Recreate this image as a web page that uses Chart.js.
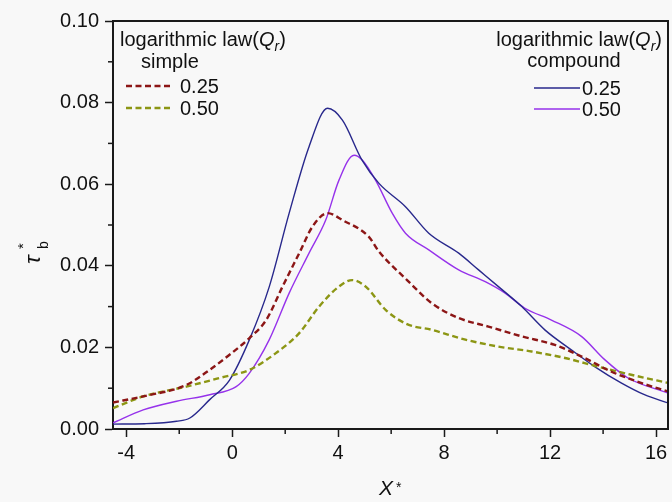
<!DOCTYPE html>
<html>
<head>
<meta charset="utf-8">
<script src="https://cdn.jsdelivr.net/npm/chart.js@4.4.1/dist/chart.umd.min.js"></script>
<style>
  html, body { margin: 0; padding: 0; background: #f8f8f8; }
  #wrap { width: 672px; height: 502px; }
</style>
</head>
<body>
<div id="wrap"><canvas id="tauChart" width="672" height="502"></canvas></div>
<script>
// tick values
const xTicks = [-4, 0, 4, 8, 12, 16];
const xMinor = [-2, 2, 6, 10, 14];
const yTicks = [0, 0.02, 0.04, 0.06, 0.08, 0.10];
const yMinor = [0.01, 0.03, 0.05, 0.07, 0.09];

// simple, Qr = 0.25 (red dashed)
const simple25X = [-4.5, -3.36, -1.73, -0.85, -0.1, 0.65, 1.28, 1.9, 2.53, 3.03, 3.6, 4.16, 5.16, 5.54, 6.6, 7.54, 8.55, 9.67, 10.93, 12.18, 13.3, 14.3, 15.43, 16.45];
const simple25Y = [0.0065, 0.008, 0.0108, 0.0145, 0.0182, 0.0223, 0.0267, 0.0349, 0.0431, 0.0496, 0.0529, 0.0512, 0.0471, 0.0435, 0.0365, 0.0308, 0.0272, 0.0251, 0.0227, 0.0206, 0.0174, 0.0141, 0.0113, 0.0092];

// simple, Qr = 0.50 (olive dashed)
const simple50X = [-4.5, -3.36, -1.73, -0.48, 0.65, 1.65, 2.53, 3.28, 4.03, 4.53, 5.04, 5.79, 6.6, 7.54, 8.8, 10.05, 11.3, 12.56, 13.8, 15.06, 16.45];
const simple50Y = [0.0051, 0.008, 0.0104, 0.0125, 0.0145, 0.0186, 0.0235, 0.030, 0.0349, 0.0365, 0.0349, 0.0292, 0.0257, 0.0243, 0.0219, 0.0202, 0.019, 0.0174, 0.0153, 0.0133, 0.0113];

// compound, Qr = 0.25 (navy)
const compound25X = [-4.5, -3.3, -2.1, -1.6, -0.85, -0.1, 0.65, 1.4, 2.15, 2.9, 3.6, 4.16, 4.9, 5.54, 6.54, 7.42, 8.55, 9.3, 10.05, 10.93, 11.8, 12.8, 13.68, 14.68, 15.56, 16.45];
const compound25Y = [0.0012, 0.0013, 0.0019, 0.0027, 0.0072, 0.012, 0.0219, 0.0349, 0.0529, 0.0692, 0.0786, 0.0757, 0.0659, 0.0602, 0.0545, 0.048, 0.0431, 0.039, 0.0349, 0.030, 0.0243, 0.0194, 0.0153, 0.0113, 0.0084, 0.0064];

// compound, Qr = 0.50 (violet)
const compound50X = [-4.5, -3.36, -2.1, -0.85, 0.15, 0.65, 1.4, 2.15, 2.9, 3.53, 4.03, 4.6, 4.9, 5.41, 6.04, 6.54, 7.42, 8.55, 9.55, 10.3, 11.05, 12.05, 13.18, 14.06, 14.94, 16.45];
const compound50Y = [0.0015, 0.0047, 0.0068, 0.0084, 0.0104, 0.0137, 0.0219, 0.0333, 0.0431, 0.0512, 0.061, 0.0671, 0.066, 0.061, 0.0529, 0.048, 0.0439, 0.039, 0.0361, 0.0333, 0.0296, 0.0267, 0.0227, 0.017, 0.0125, 0.0088];

const FONT = '"Liberation Sans", Arial, sans-serif';
const RED = 'rgb(140, 22, 22)';
const OLIVE = 'rgb(140, 150, 20)';
const NAVY = 'rgb(40, 40, 140)';
const VIOLET = 'rgb(150, 50, 235)';
const DASH = [6, 3.5];

const toPoints = (xs, ys) => xs.map((x, i) => ({ x: x, y: ys[i] }));

// 제목 "logarithmic law(Qr)" 그리기 (아래첨자 포함)
function drawLawTitle(ctx, x, y, alignRight) {
    const parts = [
        { t: 'logarithmic law(', f: '20px ' + FONT, dy: 0 },
        { t: 'Q', f: 'italic 20px ' + FONT, dy: 0 },
        { t: 'r', f: 'italic 14px ' + FONT, dy: 5 },
        { t: ')', f: '20px ' + FONT, dy: 0 }
    ];
    let total = 0;
    parts.forEach(p => { ctx.font = p.f; total += ctx.measureText(p.t).width; });
    let cx = alignRight ? x - total : x;
    ctx.textAlign = 'left';
    ctx.textBaseline = 'alphabetic';
    parts.forEach(p => {
        ctx.font = p.f;
        ctx.fillText(p.t, cx, y + p.dy);
        cx += ctx.measureText(p.t).width;
    });
}

function drawKey(ctx, x1, x2, y, color, dash, width, label, tx) {
    ctx.save();
    ctx.strokeStyle = color;
    ctx.lineWidth = width;
    ctx.setLineDash(dash);
    ctx.beginPath();
    ctx.moveTo(x1, y);
    ctx.lineTo(x2, y);
    ctx.stroke();
    ctx.restore();
    ctx.font = '20px ' + FONT;
    ctx.textAlign = 'left';
    ctx.textBaseline = 'alphabetic';
    ctx.fillText(label, tx, y + 7);
}

const decorPlugin = {
    id: 'decor',
    beforeDraw(chart) {
        const ctx = chart.ctx;
        ctx.save();
        ctx.fillStyle = '#f8f8f8';
        ctx.fillRect(0, 0, chart.width, chart.height);
        ctx.restore();
    },
    afterDraw(chart) {
        const ctx = chart.ctx;
        const a = chart.chartArea;
        const xs = chart.scales.x, ys = chart.scales.y;
        ctx.save();
        ctx.fillStyle = '#111';
        ctx.strokeStyle = '#1a1a1a';

        // 상단/우측 테두리
        ctx.lineWidth = 2;
        ctx.beginPath();
        ctx.moveTo(a.left, a.top);
        ctx.lineTo(a.right, a.top);
        ctx.lineTo(a.right, a.bottom);
        ctx.stroke();

        // 보조 눈금
        ctx.lineWidth = 1.5;
        xMinor.forEach(v => {
            const px = xs.getPixelForValue(v);
            ctx.beginPath();
            ctx.moveTo(px, a.bottom);
            ctx.lineTo(px, a.bottom + 5);
            ctx.stroke();
        });
        yMinor.forEach(v => {
            const py = ys.getPixelForValue(v);
            ctx.beginPath();
            ctx.moveTo(a.left, py);
            ctx.lineTo(a.left - 5, py);
            ctx.stroke();
        });

        // 범례 (왼쪽: simple)
        drawLawTitle(ctx, 120, 46, false);
        ctx.font = '20px ' + FONT;
        ctx.textAlign = 'left';
        ctx.fillText('simple', 141, 68);
        drawKey(ctx, 126, 172, 86, RED, DASH, 2.4, '0.25', 180);
        drawKey(ctx, 126, 172, 108, OLIVE, DASH, 2.4, '0.50', 180);

        // 범례 (오른쪽: compound)
        drawLawTitle(ctx, 662, 46, true);
        ctx.font = '20px ' + FONT;
        ctx.textAlign = 'center';
        ctx.fillText('compound', 574, 67);
        drawKey(ctx, 534, 580, 88, NAVY, [], 1.4, '0.25', 582);
        drawKey(ctx, 534, 580, 109, VIOLET, [], 1.4, '0.50', 582);

        // x축 제목 X*
        ctx.textAlign = 'left';
        ctx.font = 'italic 21px ' + FONT;
        ctx.fillText('X', 379, 495);
        ctx.font = '14px ' + FONT;
        ctx.fillText('*', 396, 492);

        // y축 제목 τ*b (회전)
        ctx.translate(40, 252);
        ctx.rotate(-Math.PI / 2);
        ctx.font = 'italic 23px ' + FONT;
        ctx.fillText('\u03C4', -12, 0);
        ctx.font = '15px ' + FONT;
        ctx.fillText('*', 3, -12);
        ctx.font = '14px ' + FONT;
        ctx.fillText('b', 3, 8);
        ctx.restore();
    }
};

const makeSet = (label, xsArr, ysArr, color, dash, width) => ({
    label: label,
    data: toPoints(xsArr, ysArr),
    borderColor: color,
    borderWidth: width,
    borderDash: dash,
    showLine: true,
    fill: false,
    pointRadius: 0,
    cubicInterpolationMode: 'monotone'
});

new Chart(document.getElementById('tauChart').getContext('2d'), {
    type: 'scatter',
    data: {
        datasets: [
            makeSet('simple 0.25', simple25X, simple25Y, RED, DASH, 2.4),
            makeSet('simple 0.50', simple50X, simple50Y, OLIVE, DASH, 2.4),
            makeSet('compound 0.25', compound25X, compound25Y, NAVY, [], 1.4),
            makeSet('compound 0.50', compound50X, compound50Y, VIOLET, [], 1.4)
        ]
    },
    options: {
        responsive: false,
        animation: false,
        devicePixelRatio: 1,
        layout: { padding: { left: 0, right: 4, top: 21, bottom: 0 } },
        plugins: { legend: { display: false }, tooltip: { enabled: false } },
        scales: {
            x: {
                type: 'linear',
                min: -4.5,
                max: 16.45,
                afterBuildTicks: s => { s.ticks = xTicks.map(v => ({ value: v })); },
                afterFit: s => { s.height = 73; },
                grid: { display: true, drawOnChartArea: false, drawTicks: true, tickLength: 8, tickWidth: 1.5, tickColor: '#1a1a1a' },
                border: { display: true, color: '#1a1a1a', width: 2 },
                ticks: { color: '#111', font: { family: FONT, size: 20 }, padding: 4, maxRotation: 0, autoSkip: false }
            },
            y: {
                type: 'linear',
                min: 0,
                max: 0.1,
                afterBuildTicks: s => { s.ticks = yTicks.map(v => ({ value: v })); },
                afterFit: s => { s.width = 113; },
                grid: { display: true, drawOnChartArea: false, drawTicks: true, tickLength: 8, tickWidth: 1.5, tickColor: '#1a1a1a' },
                border: { display: true, color: '#1a1a1a', width: 2 },
                ticks: { color: '#111', font: { family: FONT, size: 20 }, padding: 6, autoSkip: false, callback: v => v.toFixed(2) }
            }
        }
    },
    plugins: [decorPlugin]
});
</script>
</body>
</html>
